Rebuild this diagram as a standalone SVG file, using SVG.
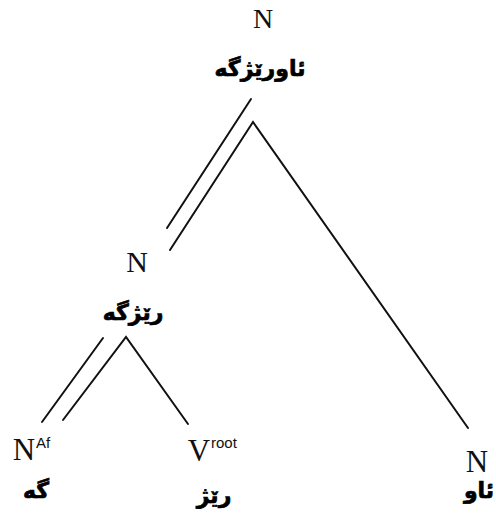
<svg xmlns="http://www.w3.org/2000/svg" width="496" height="522" viewBox="0 0 496 522">
<style>
.lat{font-family:"Liberation Serif","Times New Roman",serif;fill:#111;text-anchor:middle}
.sup{font-family:"Liberation Sans",Arial,sans-serif;font-size:15px;fill:#111}
.ku{font-family:"DejaVu Sans","Noto Sans",sans-serif;font-weight:bold;font-size:22px;fill:#000;stroke:#000;stroke-width:0.7;text-anchor:middle}
.e{stroke:#111;stroke-width:2;fill:none;stroke-linecap:round;stroke-linejoin:miter}
</style>
<rect width="496" height="522" fill="#fff"/>
<g id="connectors">
<line class="e" x1="251" y1="99" x2="167" y2="228"/>
<polyline class="e" points="170,250 253,122 468,428"/>
<line class="e" x1="103" y1="338" x2="42" y2="422"/>
<polyline class="e" points="63,420 126,337 188,424"/>
</g>
<g id="n-root">
<text class="lat" x="263" y="28" font-size="28">N</text>
<text class="ku" x="260" y="76" direction="rtl">ئاورێژگه</text>
</g>
<g id="n-mid">
<text class="lat" x="137" y="272" font-size="30">N</text>
<text class="ku" x="133" y="320" direction="rtl">رێژگه</text>
</g>
<g id="n-af">
<text class="lat" x="24" y="460" font-size="31">N</text>
<text class="sup" x="36" y="448">Af</text>
<text class="ku" x="36" y="498" direction="rtl">گه</text>
</g>
<g id="n-root-v">
<text class="lat" x="199" y="461" font-size="31">V</text>
<text class="sup" x="211" y="448">root</text>
<text class="ku" x="214" y="503" direction="rtl">رێژ</text>
</g>
<g id="n-right">
<text class="lat" x="477" y="472" font-size="31">N</text>
<text class="ku" x="479" y="498" direction="rtl">ئاو</text>
</g>
</svg>
